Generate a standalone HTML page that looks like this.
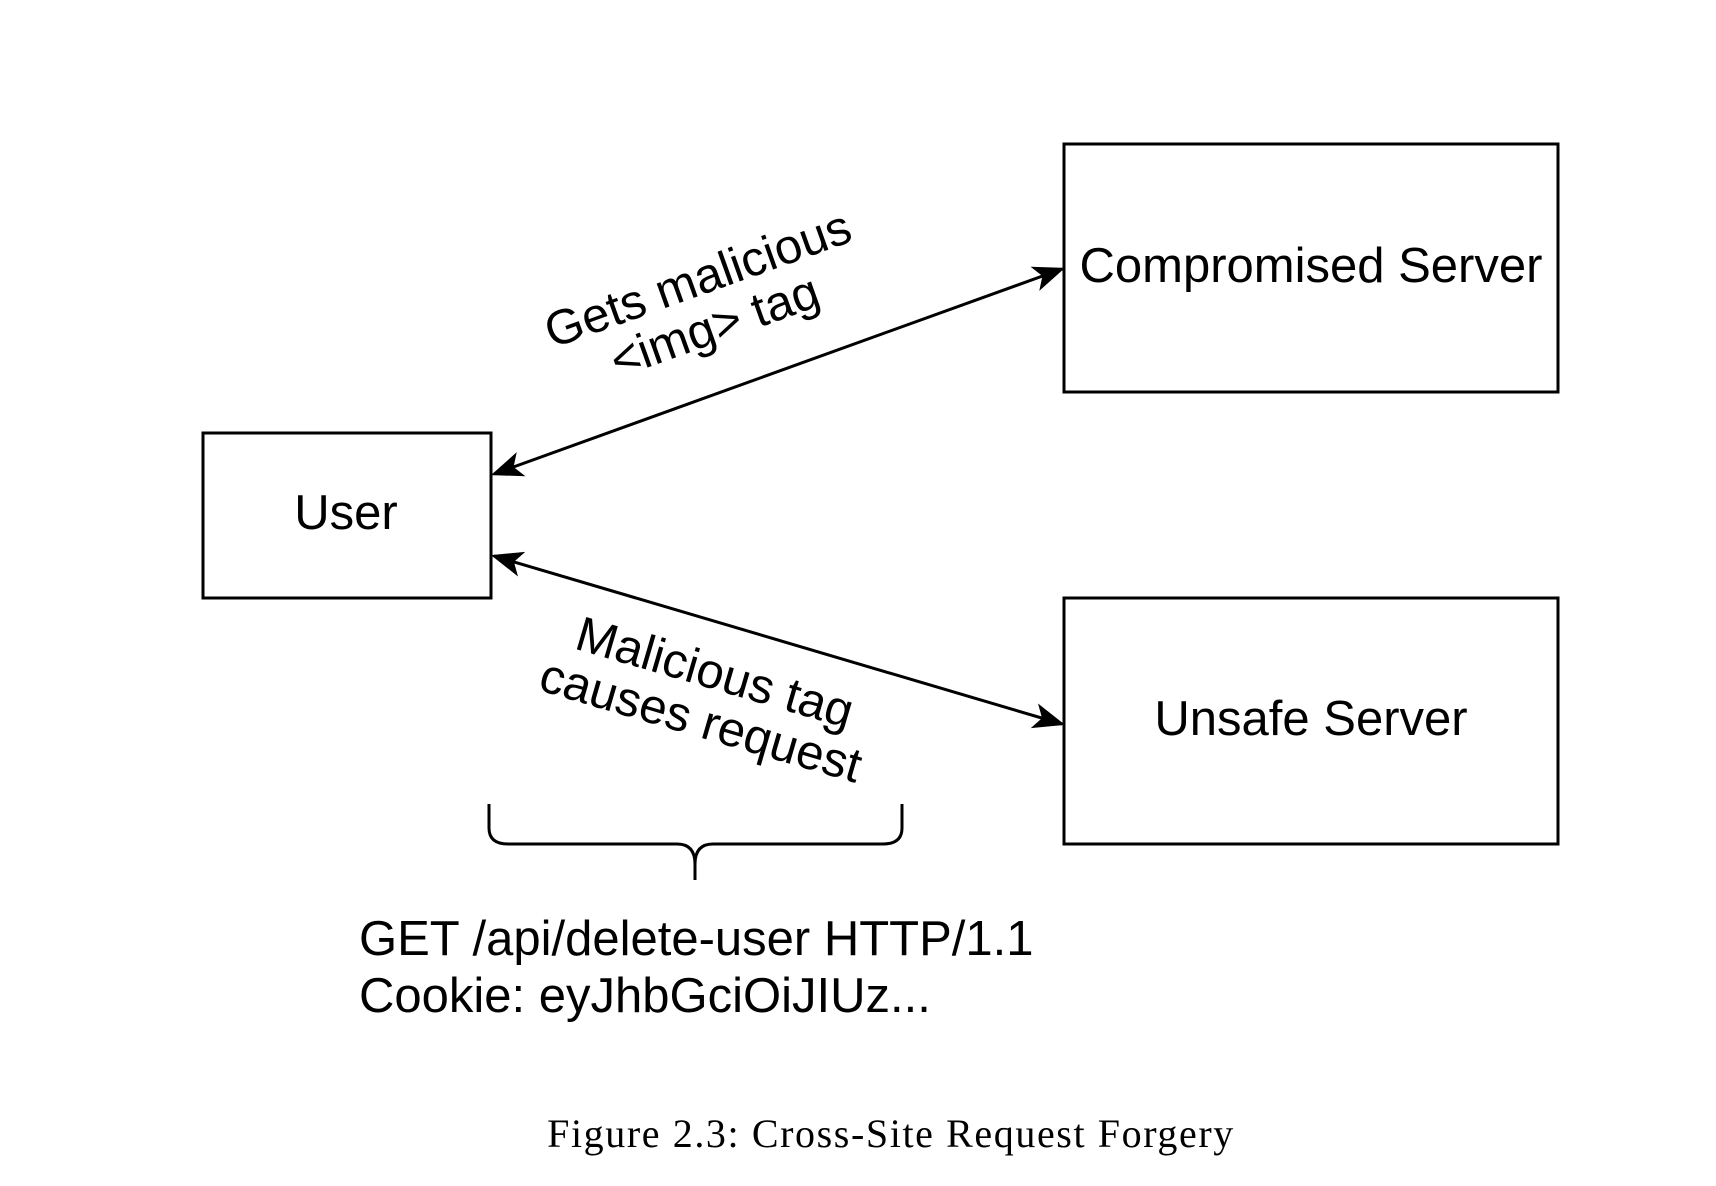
<!DOCTYPE html>
<html><head><meta charset="utf-8"><style>
html,body{margin:0;padding:0;background:#fff;}
svg{display:block;}
</style></head><body>
<svg width="1716" height="1186" viewBox="0 0 1716 1186" xmlns="http://www.w3.org/2000/svg">
<defs>
<marker id="ah" viewBox="0 0 20 20" refX="18" refY="10" markerWidth="32" markerHeight="32" markerUnits="userSpaceOnUse" orient="auto-start-reverse">
<path d="M0,2 L20,10 L0,18 L5,10 Z" fill="#000"/>
</marker>
</defs>
<g fill="none" stroke="#000" stroke-width="3">
<rect x="1064" y="144" width="494" height="248"/>
<rect x="203" y="433" width="288" height="165"/>
<rect x="1064" y="598" width="494" height="246"/>
</g>
<g stroke="#000" stroke-width="3">
<line x1="494" y1="474" x2="1062" y2="269" marker-start="url(#ah)" marker-end="url(#ah)"/>
<line x1="494" y1="556" x2="1062" y2="724" marker-start="url(#ah)" marker-end="url(#ah)"/>
</g>
<path d="M489,804 L489,828 Q489,844 508,844 L677,844 Q695,844 695,864 L695,880 M695,864 Q695,844 713,844 L883,844 Q902,844 902,828 L902,804" fill="none" stroke="#000" stroke-width="3"/>
<g font-family="Liberation Sans, sans-serif" font-size="49" fill="#000" text-anchor="middle">
<text x="1311" y="282">Compromised Server</text>
<text x="346" y="529">User</text>
<text x="1311" y="735">Unsafe Server</text>
<g transform="translate(706,302) rotate(-19.7)">
<text x="0" y="-8">Gets malicious</text>
<text x="0" y="42">&lt;img&gt; tag</text>
</g>
<g transform="translate(708,696) rotate(16.3)">
<text x="0" y="-8">Malicious tag</text>
<text x="0" y="42">causes request</text>
</g>
<g text-anchor="start">
<text x="359" y="955">GET /api/delete-user HTTP/1.1</text>
<text x="359" y="1012">Cookie: eyJhbGciOiJIUz...</text>
</g>
</g>
<text x="891" y="1147" font-family="Liberation Serif, serif" font-size="40" letter-spacing="1.6" text-anchor="middle" fill="#000">Figure 2.3:  Cross-Site Request Forgery</text>
</svg>
</body></html>
